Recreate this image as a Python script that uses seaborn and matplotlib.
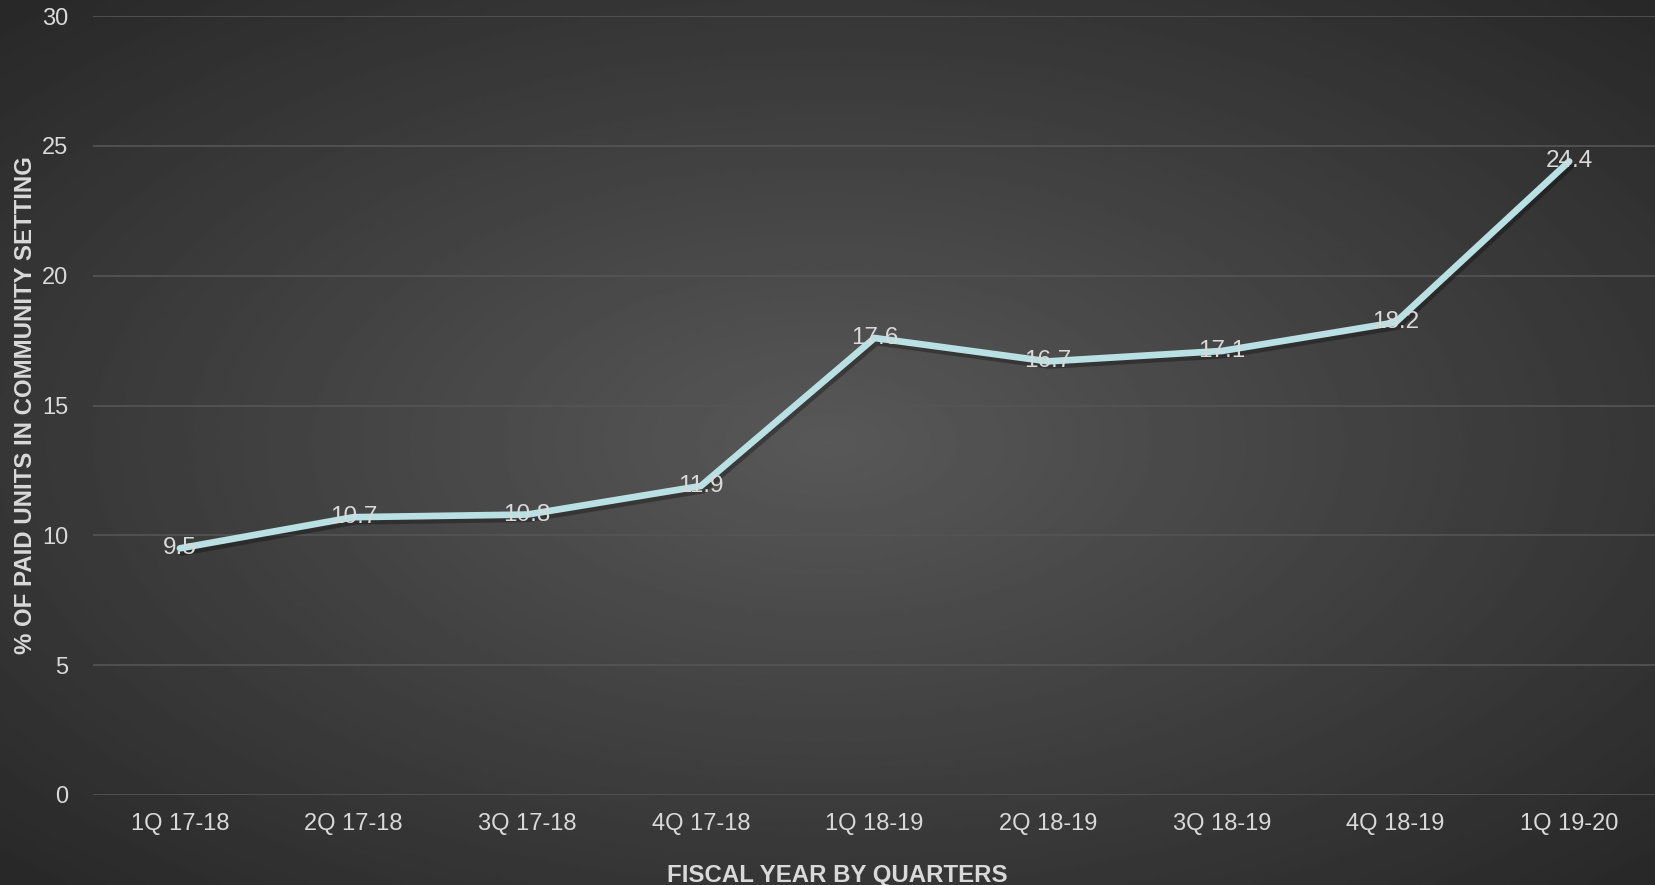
import numpy as np
import pandas as pd
import matplotlib
matplotlib.use("Agg")
import matplotlib.pyplot as plt
import matplotlib.patheffects as pe
import seaborn as sns

# data
quarters = ["1Q 17-18", "2Q 17-18", "3Q 17-18", "4Q 17-18", "1Q 18-19",
            "2Q 18-19", "3Q 18-19", "4Q 18-19", "1Q 19-20"]
pct_community = [9.5, 10.7, 10.8, 11.9, 17.6, 16.7, 17.1, 18.2, 24.4]

df = pd.DataFrame({"quarter": quarters, "pct": pct_community})
df["pos"] = np.arange(len(df))

sns.set_style("dark")
plt.rcParams["font.family"] = ["Liberation Sans", "DejaVu Sans"]

txt = "#d9d9d9"
fig = plt.figure(figsize=(16.56, 8.85), dpi=100)

# radial gradient background
bg = fig.add_axes([0, 0, 1, 1], zorder=-1)
yy, xx = np.mgrid[0:1:300j, 0:1:560j]
r = np.sqrt(((xx - 0.5) / 0.75) ** 2 + ((yy - 0.5) / 0.75) ** 2)
shade = np.clip(0.345 - 0.2 * r, 0.15, 0.35)
bg.imshow(shade, cmap="gray", vmin=0, vmax=1, aspect="auto", extent=[0, 1, 0, 1])
bg.axis("off")

ax = fig.add_axes([0.0562, 0.1017, 0.9438, 0.8802])
ax.set_facecolor("none")

sns.lineplot(data=df, x="pos", y="pct", ax=ax, color="#b9e1e4", linewidth=4.8,
             solid_capstyle="round",
             path_effects=[pe.SimpleLineShadow(offset=(1.5, -3), shadow_color="black", alpha=0.3),
                           pe.Normal()])

for x, v in zip(df["pos"], df["pct"]):
    ax.text(x, v, f"{v}", ha="center", va="center", fontsize=17.5, color=txt, zorder=5)

ax.set_xlim(-0.5, len(quarters) - 0.5)
ax.set_ylim(0, 30)
ax.set_xticks(df["pos"])
ax.set_xticklabels(quarters)
ax.set_yticks(range(0, 31, 5))
ax.tick_params(axis="both", colors=txt, labelsize=17, length=0)
ax.tick_params(axis="x", pad=13)
ax.tick_params(axis="y", pad=18)
ax.yaxis.grid(True, color="#555555", linewidth=1.2)
ax.xaxis.grid(False)
for s in ax.spines.values():
    s.set_visible(False)

ax.set_xlabel("FISCAL YEAR BY QUARTERS", fontsize=17.3, fontweight="bold", color=txt)
ax.xaxis.set_label_coords(0.476, -0.088)
ax.set_ylabel("% OF PAID UNITS IN COMMUNITY SETTING", fontsize=17.3, fontweight="bold", color=txt)
ax.yaxis.set_label_coords(-0.0356, 0.5)

fig.savefig("out.png", dpi=100)
